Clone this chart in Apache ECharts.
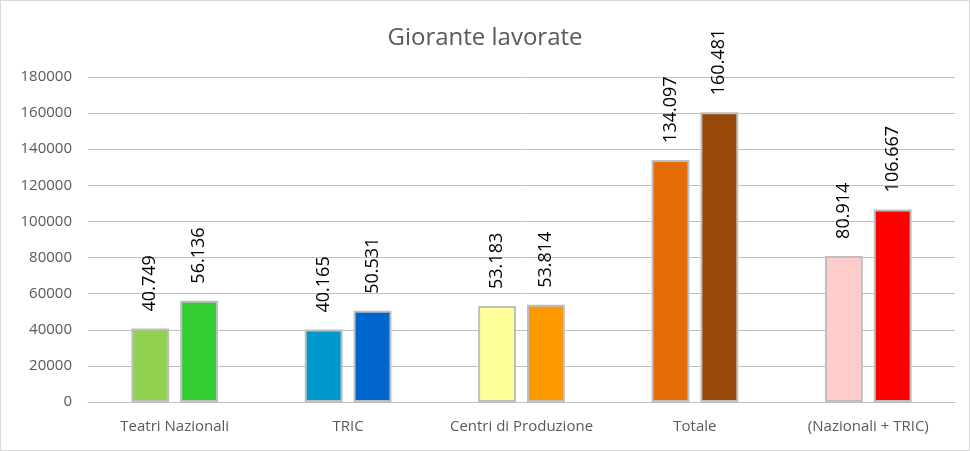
<!DOCTYPE html>
<html><head><meta charset="utf-8">
<script src="https://cdn.jsdelivr.net/npm/echarts@6/dist/echarts.min.js"></script>
<style>html,body{margin:0;padding:0;background:#fff}#c{width:968px;height:449px;border:1px solid #d9d9d9}</style>
</head><body><div id="c"></div>
<script>
const categories = ['Teatri Nazionali','TRIC','Centri di Produzione','Totale','(Nazionali + TRIC)'];
const seriesA = [40749, 40165, 53183, 134097, 80914];
const seriesB = [56136, 50531, 53814, 160481, 106667];
const colorsA = ['#92D050','#0099CC','#FFFF99','#E36C09','#FFCCCC'];
const colorsB = ['#33CC33','#0066CC','#FF9900','#984807','#FF0000'];
const yTicks = {min:0, max:180000, interval:20000};

function fmt(v){ return String(v).replace(/\B(?=(\d{3})+(?!\d))/g,'.'); }
function mk(vals, cols){
  return vals.map((v,i)=>({value:v,itemStyle:{color:cols[i]}}));
}
const label = {show:true, position:'top', rotate:90, align:'left', verticalAlign:'middle', distance:17,
  fontFamily:'Open Sans', fontSize:18, color:'#000', formatter:p=>fmt(p.value)};
const chart = echarts.init(document.getElementById('c'));
chart.setOption({
  animation:false,
  title:{text:'Giorante lavorate', left:'center', top:20, textStyle:{fontFamily:'Open Sans', fontWeight:'normal', fontSize:24, color:'#595959'}},
  grid:{left:87, right:14, top:76, bottom:48},
  xAxis:{type:'category', data:categories, axisTick:{show:false},
    axisLine:{lineStyle:{color:'#bfbfbf'}},
    axisLabel:{interval:0, color:'#595959', fontFamily:'Open Sans', fontSize:15, margin:17}},
  yAxis:{type:'value', min:yTicks.min, max:yTicks.max, interval:yTicks.interval,
    axisLine:{show:false}, axisTick:{show:false},
    splitLine:{lineStyle:{color:'#bfbfbf'}},
    axisLabel:{color:'#595959', fontFamily:'Open Sans', fontSize:15, margin:16, formatter:v=>String(v)}},
  series:[
    {type:'bar', data:mk(seriesA,colorsA), barGap:'29%', barCategoryGap:'50%',
     itemStyle:{borderColor:'#bfbfbf', borderWidth:2}, label:label},
    {type:'bar', data:mk(seriesB,colorsB),
     itemStyle:{borderColor:'#bfbfbf', borderWidth:2}, label:label}
  ]
});
</script></body></html>
